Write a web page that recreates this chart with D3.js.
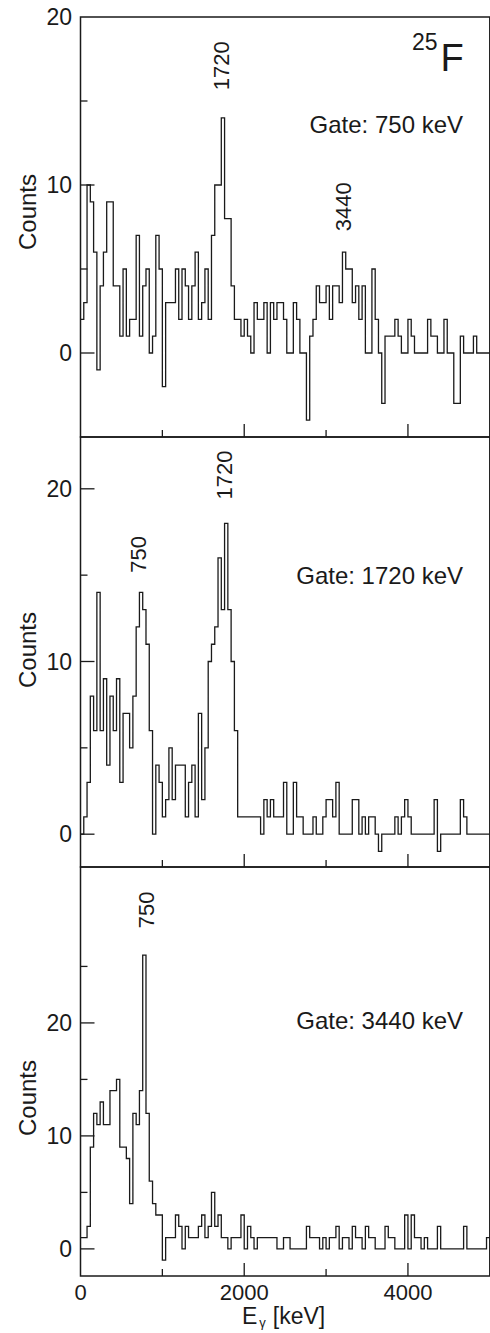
<!DOCTYPE html>
<html>
<head>
<meta charset="utf-8">
<script src="https://cdn.jsdelivr.net/npm/d3@7"></script>
<style>
  body { margin: 0; background: #fff; }
  text { font-family: "Liberation Sans", Arial, sans-serif; fill: #1a1a1a; }
</style>
</head>
<body>
<div id="chart"></div>
<script>
// ---- data: counts per 40 keV bin, 0 .. 5000 keV ----
const binWidth = 40;

const gate750 = [
  2, 3, 10, 9, 6, -1, 4, 6, 9, 9,
  4, 4, 1, 5, 1, 2, 2, 7, 1, 4,
  5, 0, 1, 7, 5, -2, 3, 3, 3, 5,
  2, 5, 4, 2, 4, 6, 2, 3, 5, 2,
  7, 10, 10, 14, 8, 8, 4, 2, 2, 1,
  2, 1, 0, 3, 2, 2, 3, 0, 3, 2,
  3, 3, 2, 0, 0, 3, 2, 0, 0, -4,
  1, 2, 4, 3, 3, 4, 2, 4, 4, 3,
  6, 5, 5, 3, 4, 2, 4, 0, 0, 5,
  2, 0, -3, 1, 1, 1, 2, 1, 0, 0,
  2, 1, 0, 0, 0, 0, 2, 1, 1, 0,
  0, 2, 0, 0, -3, -3, 1, 0, 0, 0,
  1, 0, 0, 0, 0
];

const gate1720 = [
  0, 1, 3, 8, 6, 14, 6, 9, 4, 8,
  6, 9, 3, 7, 7, 5, 8, 12, 14, 13,
  11, 6, 0, 4, 3, 1, 2, 5, 2, 4,
  4, 4, 1, 3, 4, 1, 7, 2, 5, 10,
  11, 12, 16, 13, 18, 13, 10, 6, 1, 1,
  1, 1, 1, 1, 1, 0, 2, 1, 2, 1,
  1, 1, 3, 0, 0, 3, 1, 1, 0, 0,
  0, 1, 0, 0, 1, 2, 2, 1, 3, 0,
  0, 0, 0, 2, 2, 0, 1, 0, 1, 1,
  0, -1, 0, 0, 0, 0, 1, 0, 1, 2,
  1, 0, 0, 0, 0, 0, 0, 0, 2, -1,
  0, 0, 0, 0, 0, 0, 2, 1, 0, 0,
  0, 0, 0, 0, 0
];

const gate3440 = [
  1, 1, 2, 9, 12, 11, 13, 11, 11, 14,
  14, 15, 9, 9, 8, 4, 12, 11, 14, 26,
  12, 6, 4, 3, 3, -1, 1, 1, 1, 3,
  2, 0, 2, 1, 1, 1, 2, 3, 1, 2,
  5, 2, 3, 1, 1, 0, 1, 1, 1, 3,
  0, 2, 1, 0, 1, 1, 1, 1, 1, 1,
  0, 0, 1, 1, 0, 0, 0, 0, 0, 2,
  1, 1, 1, 0, 1, 0, 1, 1, 2, 0,
  1, 1, 0, 2, 1, 1, 0, 2, 1, 1,
  0, 0, 0, 2, 1, 1, 0, 0, 0, 3,
  0, 3, 1, 1, 0, 1, 0, 0, 0, 2,
  0, 0, 0, 0, 0, 0, 0, 2, 0, 0,
  0, 0, 0, 0, 1
];

const gateLabels = ["Gate: 750 keV", "Gate: 1720 keV", "Gate: 3440 keV"];

// peak labels: energy (keV) and counts where the rotated text is centred
const peaks750 = [{ text: "1720", e: 1720, c: 17.1 }, { text: "3440", e: 3210, c: 8.7 }];
const peaks1720 = [{ text: "750", e: 707, c: 16.2 }, { text: "1720", e: 1760, c: 20.8 }];
const peaks3440 = [{ text: "750", e: 800, c: 30 }];

const xTicks = [0, 2000, 4000];
const xMinor = [1000, 3000];
const yTicks = [0, 10, 20];
const yMinor = [-5, 5, 15, 25];

// ---- layout ----
const W = 490, H = 1333;
const x = d3.scaleLinear().domain([0, 5000]).range([80.5, 489.8]);

const panels = [
  { counts: gate750, peaks: peaks750, gate: gateLabels[0], top: 17, bottom: 437, dom: [-5, 20], gateY: 133, countsY: 212 },
  { counts: gate1720, peaks: peaks1720, gate: gateLabels[1], top: 437, bottom: 867, dom: [-1.9, 23], gateY: 584, countsY: 650 },
  { counts: gate3440, peaks: peaks3440, gate: gateLabels[2], top: 867, bottom: 1276, dom: [-2.4, 33.8], gateY: 1029, countsY: 1098 }
];

const svg = d3.select("#chart").append("svg")
  .attr("width", W)
  .attr("height", H);

panels.forEach((p, idx) => {
  const y = d3.scaleLinear().domain(p.dom).range([p.bottom, p.top]);
  const g = svg.append("g");

  // histogram as a step line
  const pts = p.counts.map((c, i) => [i * binWidth, c]);
  pts.push([p.counts.length * binWidth, p.counts[p.counts.length - 1]]);

  g.append("path")
    .datum(pts)
    .attr("fill", "none")
    .attr("stroke", "#1a1a1a")
    .attr("stroke-width", 1.3)
    .attr("d", d3.line()
      .x(d => x(d[0]))
      .y(d => y(d[1]))
      .curve(d3.curveStepAfter));

  // frame
  g.append("rect")
    .attr("x", x(0))
    .attr("y", p.top)
    .attr("width", x(5000) - x(0))
    .attr("height", p.bottom - p.top)
    .attr("fill", "none")
    .attr("stroke", "#1a1a1a")
    .attr("stroke-width", 1.5);

  // y ticks (inward)
  const inY = v => v > p.dom[0] && v < p.dom[1];
  const labY = v => v >= p.dom[0] && v <= p.dom[1];
  g.selectAll(".ymaj").data(yTicks.filter(inY)).enter().append("line")
    .attr("x1", x(0)).attr("x2", x(0) + 14)
    .attr("y1", d => y(d)).attr("y2", d => y(d))
    .attr("stroke", "#1a1a1a").attr("stroke-width", 1.3);
  g.selectAll(".ymin").data(yMinor.filter(inY)).enter().append("line")
    .attr("x1", x(0)).attr("x2", x(0) + 7)
    .attr("y1", d => y(d)).attr("y2", d => y(d))
    .attr("stroke", "#1a1a1a").attr("stroke-width", 1.3);

  g.selectAll(".ylab").data(yTicks.filter(labY)).enter().append("text")
    .attr("x", 72)
    .attr("y", d => y(d))
    .attr("dy", "0.36em")
    .attr("text-anchor", "end")
    .style("font-size", "23px")
    .text(d => d);

  // x ticks (inward from bottom)
  g.selectAll(".xmaj").data(xTicks.filter(d => d > 0)).enter().append("line")
    .attr("x1", d => x(d)).attr("x2", d => x(d))
    .attr("y1", p.bottom).attr("y2", p.bottom - 13)
    .attr("stroke", "#1a1a1a").attr("stroke-width", 1.3);
  g.selectAll(".xmin").data(xMinor).enter().append("line")
    .attr("x1", d => x(d)).attr("x2", d => x(d))
    .attr("y1", p.bottom).attr("y2", p.bottom - 7)
    .attr("stroke", "#1a1a1a").attr("stroke-width", 1.3);

  // axis title
  g.append("text")
    .attr("transform", `translate(27,${p.countsY}) rotate(-90)`)
    .attr("dy", "0.36em")
    .attr("text-anchor", "middle")
    .style("font-size", "24px")
    .text("Counts");

  // gate text
  g.append("text")
    .attr("x", 463)
    .attr("y", p.gateY)
    .attr("text-anchor", "end")
    .style("font-size", "24px")
    .text(p.gate);

  // peak labels
  g.selectAll(".peak").data(p.peaks).enter().append("text")
    .attr("transform", d => `translate(${x(d.e)},${y(d.c)}) rotate(-90)`)
    .attr("dy", "0.36em")
    .attr("text-anchor", "middle")
    .style("font-size", "22px")
    .text(d => d.text);

  // bottom panel gets the energy labels
  if (idx === panels.length - 1) {
    g.selectAll(".xlab").data(xTicks).enter().append("text")
      .attr("x", d => x(d))
      .attr("y", 1300)
      .attr("text-anchor", "middle")
      .style("font-size", "22px")
      .text(d => d);
  }
});

// nucleus label
const nuc = svg.append("text").attr("x", 412).attr("y", 71);
nuc.append("tspan").attr("dy", -21).style("font-size", "23px").text("25");
nuc.append("tspan").attr("dx", 3).attr("dy", 21).style("font-size", "38px").text("F");

// x title with subscript gamma
const xt = svg.append("text").attr("x", 242).attr("y", 1324).style("font-size", "23px");
xt.append("tspan").text("E");
xt.append("tspan").attr("dx", 2).attr("dy", 3).style("font-size", "13px").text("\u03b3");
xt.append("tspan").attr("dx", 7).attr("dy", -3).text("[keV]");
</script>
</body>
</html>
